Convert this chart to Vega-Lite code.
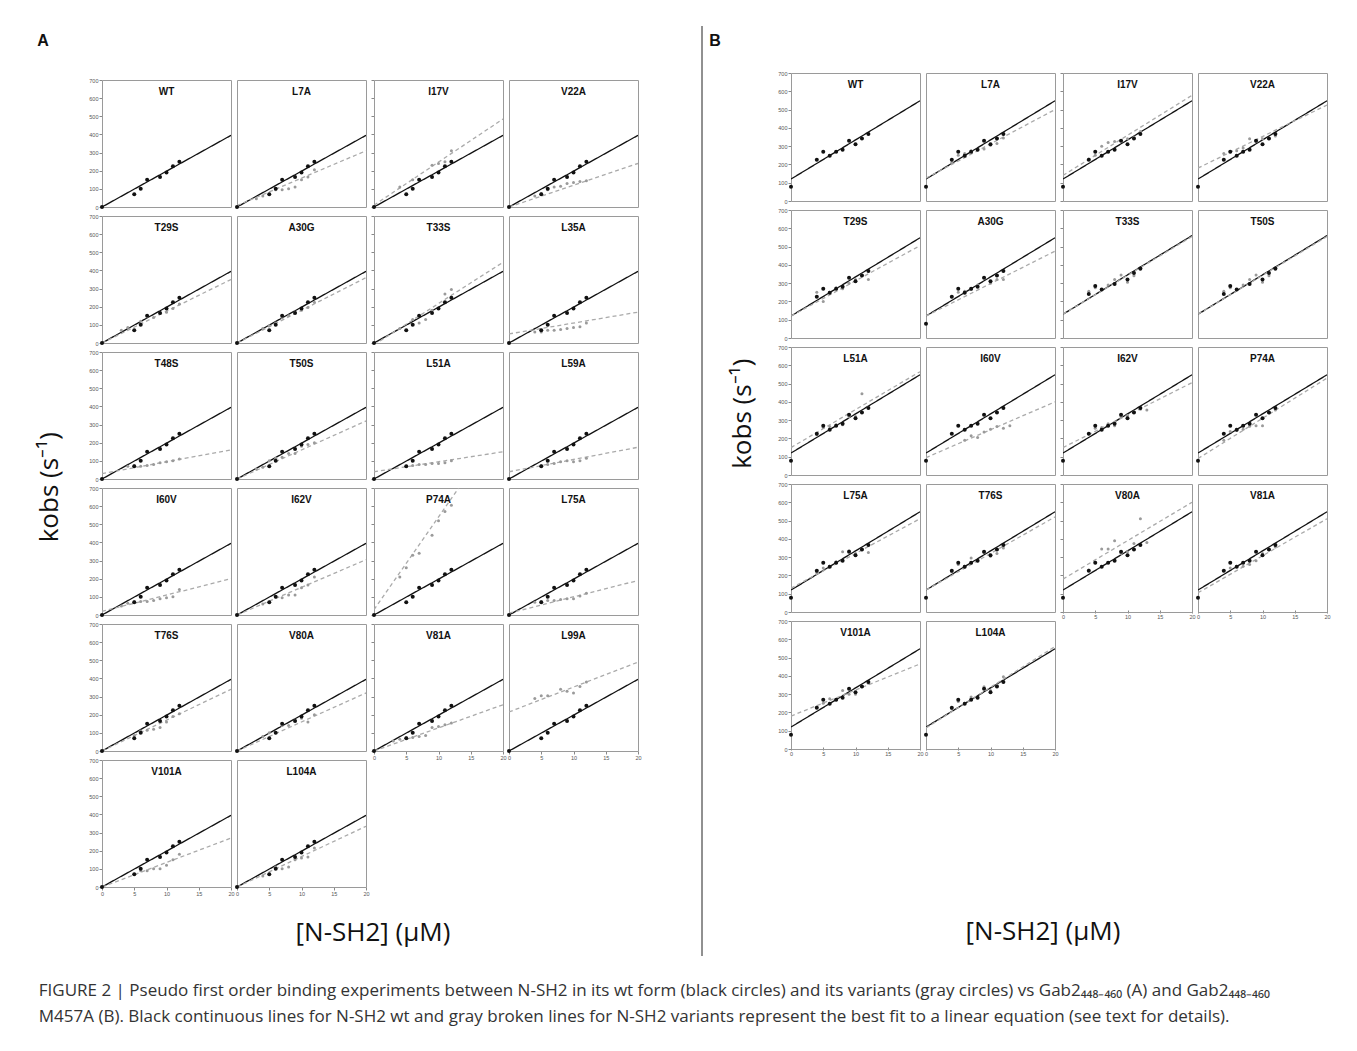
{
"$schema":"https://vega.github.io/schema/vega-lite/v6.json",
"padding":{"left":36,"top":25,"right":5,"bottom":5},
"datasets":{
"A":[
{"p":"WT","s":"wp","x":0,"y":0},{"p":"WT","s":"wp","x":5,"y":70},{"p":"WT","s":"wp","x":6,"y":100},{"p":"WT","s":"wp","x":7,"y":150},{"p":"WT","s":"wp","x":9,"y":165},{"p":"WT","s":"wp","x":10,"y":190},{"p":"WT","s":"wp","x":11,"y":225},{"p":"WT","s":"wp","x":12,"y":250},{"p":"WT","s":"wl","x":0,"y":0},{"p":"WT","s":"wl","x":20,"y":395},
{"p":"L7A","s":"wp","x":0,"y":0},{"p":"L7A","s":"wp","x":5,"y":70},{"p":"L7A","s":"wp","x":6,"y":100},{"p":"L7A","s":"wp","x":7,"y":150},{"p":"L7A","s":"wp","x":9,"y":165},{"p":"L7A","s":"wp","x":10,"y":190},{"p":"L7A","s":"wp","x":11,"y":225},{"p":"L7A","s":"wp","x":12,"y":250},{"p":"L7A","s":"wl","x":0,"y":0},{"p":"L7A","s":"wl","x":20,"y":395},
{"p":"L7A","s":"vp","x":3,"y":45},{"p":"L7A","s":"vp","x":4,"y":60},{"p":"L7A","s":"vp","x":6,"y":95},{"p":"L7A","s":"vp","x":7,"y":95},{"p":"L7A","s":"vp","x":8,"y":100},{"p":"L7A","s":"vp","x":9,"y":110},{"p":"L7A","s":"vp","x":10,"y":150},{"p":"L7A","s":"vp","x":11,"y":165},{"p":"L7A","s":"vp","x":12,"y":205},{"p":"L7A","s":"vl","x":0,"y":8},{"p":"L7A","s":"vl","x":20,"y":310},
{"p":"I17V","s":"wp","x":0,"y":0},{"p":"I17V","s":"wp","x":5,"y":70},{"p":"I17V","s":"wp","x":6,"y":100},{"p":"I17V","s":"wp","x":7,"y":150},{"p":"I17V","s":"wp","x":9,"y":165},{"p":"I17V","s":"wp","x":10,"y":190},{"p":"I17V","s":"wp","x":11,"y":225},{"p":"I17V","s":"wp","x":12,"y":250},{"p":"I17V","s":"wl","x":0,"y":0},{"p":"I17V","s":"wl","x":20,"y":395},
{"p":"I17V","s":"vp","x":4,"y":110},{"p":"I17V","s":"vp","x":6,"y":150},{"p":"I17V","s":"vp","x":7,"y":150},{"p":"I17V","s":"vp","x":9,"y":230},{"p":"I17V","s":"vp","x":10,"y":240},{"p":"I17V","s":"vp","x":11,"y":250},{"p":"I17V","s":"vp","x":12,"y":310},{"p":"I17V","s":"vl","x":0,"y":10},{"p":"I17V","s":"vl","x":20,"y":485},
{"p":"V22A","s":"wp","x":0,"y":0},{"p":"V22A","s":"wp","x":5,"y":70},{"p":"V22A","s":"wp","x":6,"y":100},{"p":"V22A","s":"wp","x":7,"y":150},{"p":"V22A","s":"wp","x":9,"y":165},{"p":"V22A","s":"wp","x":10,"y":190},{"p":"V22A","s":"wp","x":11,"y":225},{"p":"V22A","s":"wp","x":12,"y":250},{"p":"V22A","s":"wl","x":0,"y":0},{"p":"V22A","s":"wl","x":20,"y":395},
{"p":"V22A","s":"vp","x":4,"y":60},{"p":"V22A","s":"vp","x":5,"y":75},{"p":"V22A","s":"vp","x":6,"y":95},{"p":"V22A","s":"vp","x":7,"y":110},{"p":"V22A","s":"vp","x":8,"y":115},{"p":"V22A","s":"vp","x":9,"y":130},{"p":"V22A","s":"vp","x":10,"y":135},{"p":"V22A","s":"vp","x":11,"y":140},{"p":"V22A","s":"vp","x":12,"y":145},{"p":"V22A","s":"vl","x":0,"y":0},{"p":"V22A","s":"vl","x":20,"y":240},
{"p":"T29S","s":"wp","x":0,"y":0},{"p":"T29S","s":"wp","x":5,"y":70},{"p":"T29S","s":"wp","x":6,"y":100},{"p":"T29S","s":"wp","x":7,"y":150},{"p":"T29S","s":"wp","x":9,"y":165},{"p":"T29S","s":"wp","x":10,"y":190},{"p":"T29S","s":"wp","x":11,"y":225},{"p":"T29S","s":"wp","x":12,"y":250},{"p":"T29S","s":"wl","x":0,"y":0},{"p":"T29S","s":"wl","x":20,"y":395},
{"p":"T29S","s":"vp","x":3,"y":70},{"p":"T29S","s":"vp","x":4,"y":85},{"p":"T29S","s":"vp","x":6,"y":120},{"p":"T29S","s":"vp","x":7,"y":145},{"p":"T29S","s":"vp","x":8,"y":140},{"p":"T29S","s":"vp","x":9,"y":165},{"p":"T29S","s":"vp","x":10,"y":170},{"p":"T29S","s":"vp","x":11,"y":190},{"p":"T29S","s":"vp","x":12,"y":215},{"p":"T29S","s":"vl","x":0,"y":0},{"p":"T29S","s":"vl","x":20,"y":350},
{"p":"A30G","s":"wp","x":0,"y":0},{"p":"A30G","s":"wp","x":5,"y":70},{"p":"A30G","s":"wp","x":6,"y":100},{"p":"A30G","s":"wp","x":7,"y":150},{"p":"A30G","s":"wp","x":9,"y":165},{"p":"A30G","s":"wp","x":10,"y":190},{"p":"A30G","s":"wp","x":11,"y":225},{"p":"A30G","s":"wp","x":12,"y":250},{"p":"A30G","s":"wl","x":0,"y":0},{"p":"A30G","s":"wl","x":20,"y":395},
{"p":"A30G","s":"vp","x":4,"y":80},{"p":"A30G","s":"vp","x":5,"y":95},{"p":"A30G","s":"vp","x":6,"y":110},{"p":"A30G","s":"vp","x":7,"y":140},{"p":"A30G","s":"vp","x":8,"y":150},{"p":"A30G","s":"vp","x":9,"y":170},{"p":"A30G","s":"vp","x":10,"y":180},{"p":"A30G","s":"vp","x":11,"y":195},{"p":"A30G","s":"vp","x":12,"y":225},{"p":"A30G","s":"vl","x":0,"y":0},{"p":"A30G","s":"vl","x":20,"y":360},
{"p":"T33S","s":"wp","x":0,"y":0},{"p":"T33S","s":"wp","x":5,"y":70},{"p":"T33S","s":"wp","x":6,"y":100},{"p":"T33S","s":"wp","x":7,"y":150},{"p":"T33S","s":"wp","x":9,"y":165},{"p":"T33S","s":"wp","x":10,"y":190},{"p":"T33S","s":"wp","x":11,"y":225},{"p":"T33S","s":"wp","x":12,"y":250},{"p":"T33S","s":"wl","x":0,"y":0},{"p":"T33S","s":"wl","x":20,"y":395},
{"p":"T33S","s":"vp","x":4,"y":80},{"p":"T33S","s":"vp","x":6,"y":130},{"p":"T33S","s":"vp","x":7,"y":110},{"p":"T33S","s":"vp","x":8,"y":130},{"p":"T33S","s":"vp","x":9,"y":180},{"p":"T33S","s":"vp","x":10,"y":190},{"p":"T33S","s":"vp","x":11,"y":270},{"p":"T33S","s":"vp","x":12,"y":295},{"p":"T33S","s":"vl","x":0,"y":-10},{"p":"T33S","s":"vl","x":20,"y":445},
{"p":"L35A","s":"wp","x":0,"y":0},{"p":"L35A","s":"wp","x":5,"y":70},{"p":"L35A","s":"wp","x":6,"y":100},{"p":"L35A","s":"wp","x":7,"y":150},{"p":"L35A","s":"wp","x":9,"y":165},{"p":"L35A","s":"wp","x":10,"y":190},{"p":"L35A","s":"wp","x":11,"y":225},{"p":"L35A","s":"wp","x":12,"y":250},{"p":"L35A","s":"wl","x":0,"y":0},{"p":"L35A","s":"wl","x":20,"y":395},
{"p":"L35A","s":"vp","x":4,"y":60},{"p":"L35A","s":"vp","x":5,"y":60},{"p":"L35A","s":"vp","x":6,"y":70},{"p":"L35A","s":"vp","x":7,"y":70},{"p":"L35A","s":"vp","x":8,"y":75},{"p":"L35A","s":"vp","x":9,"y":80},{"p":"L35A","s":"vp","x":10,"y":85},{"p":"L35A","s":"vp","x":11,"y":90},{"p":"L35A","s":"vp","x":12,"y":110},{"p":"L35A","s":"vl","x":0,"y":50},{"p":"L35A","s":"vl","x":20,"y":170},
{"p":"T48S","s":"wp","x":0,"y":0},{"p":"T48S","s":"wp","x":5,"y":70},{"p":"T48S","s":"wp","x":6,"y":100},{"p":"T48S","s":"wp","x":7,"y":150},{"p":"T48S","s":"wp","x":9,"y":165},{"p":"T48S","s":"wp","x":10,"y":190},{"p":"T48S","s":"wp","x":11,"y":225},{"p":"T48S","s":"wp","x":12,"y":250},{"p":"T48S","s":"wl","x":0,"y":0},{"p":"T48S","s":"wl","x":20,"y":395},
{"p":"T48S","s":"vp","x":4,"y":70},{"p":"T48S","s":"vp","x":5,"y":75},{"p":"T48S","s":"vp","x":6,"y":70},{"p":"T48S","s":"vp","x":7,"y":75},{"p":"T48S","s":"vp","x":8,"y":80},{"p":"T48S","s":"vp","x":9,"y":90},{"p":"T48S","s":"vp","x":10,"y":95},{"p":"T48S","s":"vp","x":11,"y":100},{"p":"T48S","s":"vp","x":12,"y":110},{"p":"T48S","s":"vl","x":0,"y":30},{"p":"T48S","s":"vl","x":20,"y":160},
{"p":"T50S","s":"wp","x":0,"y":0},{"p":"T50S","s":"wp","x":5,"y":70},{"p":"T50S","s":"wp","x":6,"y":100},{"p":"T50S","s":"wp","x":7,"y":150},{"p":"T50S","s":"wp","x":9,"y":165},{"p":"T50S","s":"wp","x":10,"y":190},{"p":"T50S","s":"wp","x":11,"y":225},{"p":"T50S","s":"wp","x":12,"y":250},{"p":"T50S","s":"wl","x":0,"y":0},{"p":"T50S","s":"wl","x":20,"y":395},
{"p":"T50S","s":"vp","x":3,"y":55},{"p":"T50S","s":"vp","x":4,"y":65},{"p":"T50S","s":"vp","x":5,"y":100},{"p":"T50S","s":"vp","x":6,"y":115},{"p":"T50S","s":"vp","x":7,"y":120},{"p":"T50S","s":"vp","x":8,"y":140},{"p":"T50S","s":"vp","x":9,"y":140},{"p":"T50S","s":"vp","x":10,"y":180},{"p":"T50S","s":"vp","x":11,"y":190},{"p":"T50S","s":"vp","x":12,"y":200},{"p":"T50S","s":"vl","x":0,"y":0},{"p":"T50S","s":"vl","x":20,"y":320},
{"p":"L51A","s":"wp","x":0,"y":0},{"p":"L51A","s":"wp","x":5,"y":70},{"p":"L51A","s":"wp","x":6,"y":100},{"p":"L51A","s":"wp","x":7,"y":150},{"p":"L51A","s":"wp","x":9,"y":165},{"p":"L51A","s":"wp","x":10,"y":190},{"p":"L51A","s":"wp","x":11,"y":225},{"p":"L51A","s":"wp","x":12,"y":250},{"p":"L51A","s":"wl","x":0,"y":0},{"p":"L51A","s":"wl","x":20,"y":395},
{"p":"L51A","s":"vp","x":5,"y":70},{"p":"L51A","s":"vp","x":6,"y":75},{"p":"L51A","s":"vp","x":7,"y":80},{"p":"L51A","s":"vp","x":8,"y":80},{"p":"L51A","s":"vp","x":9,"y":85},{"p":"L51A","s":"vp","x":10,"y":85},{"p":"L51A","s":"vp","x":11,"y":90},{"p":"L51A","s":"vp","x":12,"y":100},{"p":"L51A","s":"vl","x":0,"y":40},{"p":"L51A","s":"vl","x":20,"y":150},
{"p":"L59A","s":"wp","x":0,"y":0},{"p":"L59A","s":"wp","x":5,"y":70},{"p":"L59A","s":"wp","x":6,"y":100},{"p":"L59A","s":"wp","x":7,"y":150},{"p":"L59A","s":"wp","x":9,"y":165},{"p":"L59A","s":"wp","x":10,"y":190},{"p":"L59A","s":"wp","x":11,"y":225},{"p":"L59A","s":"wp","x":12,"y":250},{"p":"L59A","s":"wl","x":0,"y":0},{"p":"L59A","s":"wl","x":20,"y":395},
{"p":"L59A","s":"vp","x":5,"y":75},{"p":"L59A","s":"vp","x":6,"y":80},{"p":"L59A","s":"vp","x":7,"y":85},{"p":"L59A","s":"vp","x":8,"y":95},{"p":"L59A","s":"vp","x":9,"y":100},{"p":"L59A","s":"vp","x":10,"y":95},{"p":"L59A","s":"vp","x":11,"y":100},{"p":"L59A","s":"vp","x":12,"y":115},{"p":"L59A","s":"vl","x":0,"y":40},{"p":"L59A","s":"vl","x":20,"y":175},
{"p":"I60V","s":"wp","x":0,"y":0},{"p":"I60V","s":"wp","x":5,"y":70},{"p":"I60V","s":"wp","x":6,"y":100},{"p":"I60V","s":"wp","x":7,"y":150},{"p":"I60V","s":"wp","x":9,"y":165},{"p":"I60V","s":"wp","x":10,"y":190},{"p":"I60V","s":"wp","x":11,"y":225},{"p":"I60V","s":"wp","x":12,"y":250},{"p":"I60V","s":"wl","x":0,"y":0},{"p":"I60V","s":"wl","x":20,"y":395},
{"p":"I60V","s":"vp","x":3,"y":50},{"p":"I60V","s":"vp","x":4,"y":65},{"p":"I60V","s":"vp","x":5,"y":75},{"p":"I60V","s":"vp","x":6,"y":75},{"p":"I60V","s":"vp","x":7,"y":75},{"p":"I60V","s":"vp","x":8,"y":80},{"p":"I60V","s":"vp","x":9,"y":90},{"p":"I60V","s":"vp","x":10,"y":95},{"p":"I60V","s":"vp","x":11,"y":100},{"p":"I60V","s":"vp","x":12,"y":140},{"p":"I60V","s":"vl","x":0,"y":20},{"p":"I60V","s":"vl","x":20,"y":200},
{"p":"I62V","s":"wp","x":0,"y":0},{"p":"I62V","s":"wp","x":5,"y":70},{"p":"I62V","s":"wp","x":6,"y":100},{"p":"I62V","s":"wp","x":7,"y":150},{"p":"I62V","s":"wp","x":9,"y":165},{"p":"I62V","s":"wp","x":10,"y":190},{"p":"I62V","s":"wp","x":11,"y":225},{"p":"I62V","s":"wp","x":12,"y":250},{"p":"I62V","s":"wl","x":0,"y":0},{"p":"I62V","s":"wl","x":20,"y":395},
{"p":"I62V","s":"vp","x":4,"y":60},{"p":"I62V","s":"vp","x":5,"y":70},{"p":"I62V","s":"vp","x":6,"y":100},{"p":"I62V","s":"vp","x":7,"y":95},{"p":"I62V","s":"vp","x":8,"y":110},{"p":"I62V","s":"vp","x":9,"y":110},{"p":"I62V","s":"vp","x":10,"y":150},{"p":"I62V","s":"vp","x":11,"y":165},{"p":"I62V","s":"vp","x":12,"y":210},{"p":"I62V","s":"vl","x":0,"y":0},{"p":"I62V","s":"vl","x":20,"y":305},
{"p":"P74A","s":"wp","x":0,"y":0},{"p":"P74A","s":"wp","x":5,"y":70},{"p":"P74A","s":"wp","x":6,"y":100},{"p":"P74A","s":"wp","x":7,"y":150},{"p":"P74A","s":"wp","x":9,"y":165},{"p":"P74A","s":"wp","x":10,"y":190},{"p":"P74A","s":"wp","x":11,"y":225},{"p":"P74A","s":"wp","x":12,"y":250},{"p":"P74A","s":"wl","x":0,"y":0},{"p":"P74A","s":"wl","x":20,"y":395},
{"p":"P74A","s":"vp","x":4,"y":210},{"p":"P74A","s":"vp","x":5,"y":260},{"p":"P74A","s":"vp","x":6,"y":330},{"p":"P74A","s":"vp","x":7,"y":340},{"p":"P74A","s":"vp","x":9,"y":440},{"p":"P74A","s":"vp","x":10,"y":520},{"p":"P74A","s":"vp","x":11,"y":570},{"p":"P74A","s":"vp","x":12,"y":605},{"p":"P74A","s":"vl","x":0,"y":30},{"p":"P74A","s":"vl","x":20,"y":1050},
{"p":"L75A","s":"wp","x":0,"y":0},{"p":"L75A","s":"wp","x":5,"y":70},{"p":"L75A","s":"wp","x":6,"y":100},{"p":"L75A","s":"wp","x":7,"y":150},{"p":"L75A","s":"wp","x":9,"y":165},{"p":"L75A","s":"wp","x":10,"y":190},{"p":"L75A","s":"wp","x":11,"y":225},{"p":"L75A","s":"wp","x":12,"y":250},{"p":"L75A","s":"wl","x":0,"y":0},{"p":"L75A","s":"wl","x":20,"y":395},
{"p":"L75A","s":"vp","x":4,"y":70},{"p":"L75A","s":"vp","x":5,"y":75},{"p":"L75A","s":"vp","x":6,"y":80},{"p":"L75A","s":"vp","x":7,"y":80},{"p":"L75A","s":"vp","x":8,"y":85},{"p":"L75A","s":"vp","x":9,"y":90},{"p":"L75A","s":"vp","x":10,"y":90},{"p":"L75A","s":"vp","x":11,"y":105},{"p":"L75A","s":"vp","x":12,"y":120},{"p":"L75A","s":"vl","x":0,"y":10},{"p":"L75A","s":"vl","x":20,"y":190},
{"p":"T76S","s":"wp","x":0,"y":0},{"p":"T76S","s":"wp","x":5,"y":70},{"p":"T76S","s":"wp","x":6,"y":100},{"p":"T76S","s":"wp","x":7,"y":150},{"p":"T76S","s":"wp","x":9,"y":165},{"p":"T76S","s":"wp","x":10,"y":190},{"p":"T76S","s":"wp","x":11,"y":225},{"p":"T76S","s":"wp","x":12,"y":250},{"p":"T76S","s":"wl","x":0,"y":0},{"p":"T76S","s":"wl","x":20,"y":395},
{"p":"T76S","s":"vp","x":5,"y":85},{"p":"T76S","s":"vp","x":6,"y":110},{"p":"T76S","s":"vp","x":7,"y":115},{"p":"T76S","s":"vp","x":8,"y":120},{"p":"T76S","s":"vp","x":9,"y":130},{"p":"T76S","s":"vp","x":10,"y":160},{"p":"T76S","s":"vp","x":11,"y":190},{"p":"T76S","s":"vp","x":12,"y":205},{"p":"T76S","s":"vl","x":0,"y":0},{"p":"T76S","s":"vl","x":20,"y":340},
{"p":"V80A","s":"wp","x":0,"y":0},{"p":"V80A","s":"wp","x":5,"y":70},{"p":"V80A","s":"wp","x":6,"y":100},{"p":"V80A","s":"wp","x":7,"y":150},{"p":"V80A","s":"wp","x":9,"y":165},{"p":"V80A","s":"wp","x":10,"y":190},{"p":"V80A","s":"wp","x":11,"y":225},{"p":"V80A","s":"wp","x":12,"y":250},{"p":"V80A","s":"wl","x":0,"y":0},{"p":"V80A","s":"wl","x":20,"y":395},
{"p":"V80A","s":"vp","x":4,"y":80},{"p":"V80A","s":"vp","x":5,"y":100},{"p":"V80A","s":"vp","x":6,"y":100},{"p":"V80A","s":"vp","x":7,"y":140},{"p":"V80A","s":"vp","x":8,"y":140},{"p":"V80A","s":"vp","x":9,"y":170},{"p":"V80A","s":"vp","x":10,"y":180},{"p":"V80A","s":"vp","x":11,"y":160},{"p":"V80A","s":"vp","x":12,"y":200},{"p":"V80A","s":"vl","x":0,"y":0},{"p":"V80A","s":"vl","x":20,"y":320},
{"p":"V81A","s":"wp","x":0,"y":0},{"p":"V81A","s":"wp","x":5,"y":70},{"p":"V81A","s":"wp","x":6,"y":100},{"p":"V81A","s":"wp","x":7,"y":150},{"p":"V81A","s":"wp","x":9,"y":165},{"p":"V81A","s":"wp","x":10,"y":190},{"p":"V81A","s":"wp","x":11,"y":225},{"p":"V81A","s":"wp","x":12,"y":250},{"p":"V81A","s":"wl","x":0,"y":0},{"p":"V81A","s":"wl","x":20,"y":395},
{"p":"V81A","s":"vp","x":3,"y":55},{"p":"V81A","s":"vp","x":4,"y":65},{"p":"V81A","s":"vp","x":5,"y":75},{"p":"V81A","s":"vp","x":6,"y":75},{"p":"V81A","s":"vp","x":7,"y":80},{"p":"V81A","s":"vp","x":8,"y":85},{"p":"V81A","s":"vp","x":9,"y":130},{"p":"V81A","s":"vp","x":10,"y":135},{"p":"V81A","s":"vp","x":11,"y":145},{"p":"V81A","s":"vp","x":12,"y":155},{"p":"V81A","s":"vl","x":0,"y":0},{"p":"V81A","s":"vl","x":20,"y":255},
{"p":"L99A","s":"wp","x":0,"y":0},{"p":"L99A","s":"wp","x":5,"y":70},{"p":"L99A","s":"wp","x":6,"y":100},{"p":"L99A","s":"wp","x":7,"y":150},{"p":"L99A","s":"wp","x":9,"y":165},{"p":"L99A","s":"wp","x":10,"y":190},{"p":"L99A","s":"wp","x":11,"y":225},{"p":"L99A","s":"wp","x":12,"y":250},{"p":"L99A","s":"wl","x":0,"y":0},{"p":"L99A","s":"wl","x":20,"y":395},
{"p":"L99A","s":"vp","x":4,"y":290},{"p":"L99A","s":"vp","x":5,"y":305},{"p":"L99A","s":"vp","x":6,"y":305},{"p":"L99A","s":"vp","x":8,"y":340},{"p":"L99A","s":"vp","x":9,"y":330},{"p":"L99A","s":"vp","x":10,"y":320},{"p":"L99A","s":"vp","x":11,"y":355},{"p":"L99A","s":"vp","x":12,"y":380},{"p":"L99A","s":"vl","x":0,"y":215},{"p":"L99A","s":"vl","x":20,"y":490},
{"p":"V101A","s":"wp","x":0,"y":0},{"p":"V101A","s":"wp","x":5,"y":70},{"p":"V101A","s":"wp","x":6,"y":100},{"p":"V101A","s":"wp","x":7,"y":150},{"p":"V101A","s":"wp","x":9,"y":165},{"p":"V101A","s":"wp","x":10,"y":190},{"p":"V101A","s":"wp","x":11,"y":225},{"p":"V101A","s":"wp","x":12,"y":250},{"p":"V101A","s":"wl","x":0,"y":0},{"p":"V101A","s":"wl","x":20,"y":395},
{"p":"V101A","s":"vp","x":5,"y":70},{"p":"V101A","s":"vp","x":6,"y":90},{"p":"V101A","s":"vp","x":7,"y":90},{"p":"V101A","s":"vp","x":8,"y":100},{"p":"V101A","s":"vp","x":9,"y":100},{"p":"V101A","s":"vp","x":10,"y":120},{"p":"V101A","s":"vp","x":11,"y":150},{"p":"V101A","s":"vp","x":12,"y":180},{"p":"V101A","s":"vl","x":0,"y":0},{"p":"V101A","s":"vl","x":20,"y":270},
{"p":"L104A","s":"wp","x":0,"y":0},{"p":"L104A","s":"wp","x":5,"y":70},{"p":"L104A","s":"wp","x":6,"y":100},{"p":"L104A","s":"wp","x":7,"y":150},{"p":"L104A","s":"wp","x":9,"y":165},{"p":"L104A","s":"wp","x":10,"y":190},{"p":"L104A","s":"wp","x":11,"y":225},{"p":"L104A","s":"wp","x":12,"y":250},{"p":"L104A","s":"wl","x":0,"y":0},{"p":"L104A","s":"wl","x":20,"y":395},
{"p":"L104A","s":"vp","x":4,"y":60},{"p":"L104A","s":"vp","x":6,"y":110},{"p":"L104A","s":"vp","x":7,"y":100},{"p":"L104A","s":"vp","x":8,"y":110},{"p":"L104A","s":"vp","x":9,"y":150},{"p":"L104A","s":"vp","x":10,"y":160},{"p":"L104A","s":"vp","x":11,"y":165},{"p":"L104A","s":"vp","x":12,"y":215},{"p":"L104A","s":"vl","x":0,"y":0},{"p":"L104A","s":"vl","x":20,"y":335}
],
"B":[
{"p":"WT","s":"wp","x":0,"y":78},{"p":"WT","s":"wp","x":4,"y":225},{"p":"WT","s":"wp","x":5,"y":270},{"p":"WT","s":"wp","x":6,"y":248},{"p":"WT","s":"wp","x":7,"y":270},{"p":"WT","s":"wp","x":8,"y":280},{"p":"WT","s":"wp","x":9,"y":330},{"p":"WT","s":"wp","x":10,"y":310},{"p":"WT","s":"wp","x":11,"y":342},{"p":"WT","s":"wp","x":12,"y":367},{"p":"WT","s":"wl","x":0,"y":120},{"p":"WT","s":"wl","x":20,"y":548},
{"p":"L7A","s":"wp","x":0,"y":78},{"p":"L7A","s":"wp","x":4,"y":225},{"p":"L7A","s":"wp","x":5,"y":270},{"p":"L7A","s":"wp","x":6,"y":248},{"p":"L7A","s":"wp","x":7,"y":270},{"p":"L7A","s":"wp","x":8,"y":280},{"p":"L7A","s":"wp","x":9,"y":330},{"p":"L7A","s":"wp","x":10,"y":310},{"p":"L7A","s":"wp","x":11,"y":342},{"p":"L7A","s":"wp","x":12,"y":367},{"p":"L7A","s":"wl","x":0,"y":120},{"p":"L7A","s":"wl","x":20,"y":548},
{"p":"L7A","s":"vp","x":4,"y":210},{"p":"L7A","s":"vp","x":5,"y":250},{"p":"L7A","s":"vp","x":6,"y":260},{"p":"L7A","s":"vp","x":7,"y":275},{"p":"L7A","s":"vp","x":8,"y":280},{"p":"L7A","s":"vp","x":9,"y":285},{"p":"L7A","s":"vp","x":10,"y":305},{"p":"L7A","s":"vp","x":11,"y":315},{"p":"L7A","s":"vp","x":12,"y":345},{"p":"L7A","s":"vl","x":0,"y":125},{"p":"L7A","s":"vl","x":20,"y":500},
{"p":"I17V","s":"wp","x":0,"y":78},{"p":"I17V","s":"wp","x":4,"y":225},{"p":"I17V","s":"wp","x":5,"y":270},{"p":"I17V","s":"wp","x":6,"y":248},{"p":"I17V","s":"wp","x":7,"y":270},{"p":"I17V","s":"wp","x":8,"y":280},{"p":"I17V","s":"wp","x":9,"y":330},{"p":"I17V","s":"wp","x":10,"y":310},{"p":"I17V","s":"wp","x":11,"y":342},{"p":"I17V","s":"wp","x":12,"y":367},{"p":"I17V","s":"wl","x":0,"y":120},{"p":"I17V","s":"wl","x":20,"y":548},
{"p":"I17V","s":"vp","x":4,"y":230},{"p":"I17V","s":"vp","x":5,"y":250},{"p":"I17V","s":"vp","x":6,"y":300},{"p":"I17V","s":"vp","x":7,"y":320},{"p":"I17V","s":"vp","x":8,"y":325},{"p":"I17V","s":"vp","x":9,"y":330},{"p":"I17V","s":"vp","x":10,"y":340},{"p":"I17V","s":"vp","x":11,"y":350},{"p":"I17V","s":"vp","x":12,"y":380},{"p":"I17V","s":"vl","x":0,"y":140},{"p":"I17V","s":"vl","x":20,"y":578},
{"p":"V22A","s":"wp","x":0,"y":78},{"p":"V22A","s":"wp","x":4,"y":225},{"p":"V22A","s":"wp","x":5,"y":270},{"p":"V22A","s":"wp","x":6,"y":248},{"p":"V22A","s":"wp","x":7,"y":270},{"p":"V22A","s":"wp","x":8,"y":280},{"p":"V22A","s":"wp","x":9,"y":330},{"p":"V22A","s":"wp","x":10,"y":310},{"p":"V22A","s":"wp","x":11,"y":342},{"p":"V22A","s":"wp","x":12,"y":367},{"p":"V22A","s":"wl","x":0,"y":120},{"p":"V22A","s":"wl","x":20,"y":548},
{"p":"V22A","s":"vp","x":4,"y":260},{"p":"V22A","s":"vp","x":5,"y":270},{"p":"V22A","s":"vp","x":6,"y":275},{"p":"V22A","s":"vp","x":7,"y":290},{"p":"V22A","s":"vp","x":8,"y":340},{"p":"V22A","s":"vp","x":9,"y":325},{"p":"V22A","s":"vp","x":10,"y":340},{"p":"V22A","s":"vp","x":11,"y":340},{"p":"V22A","s":"vp","x":12,"y":355},{"p":"V22A","s":"vl","x":0,"y":180},{"p":"V22A","s":"vl","x":20,"y":525},
{"p":"T29S","s":"wp","x":4,"y":225},{"p":"T29S","s":"wp","x":5,"y":270},{"p":"T29S","s":"wp","x":6,"y":248},{"p":"T29S","s":"wp","x":7,"y":270},{"p":"T29S","s":"wp","x":8,"y":280},{"p":"T29S","s":"wp","x":9,"y":330},{"p":"T29S","s":"wp","x":10,"y":310},{"p":"T29S","s":"wp","x":11,"y":342},{"p":"T29S","s":"wp","x":12,"y":367},{"p":"T29S","s":"wl","x":0,"y":120},{"p":"T29S","s":"wl","x":20,"y":548},
{"p":"T29S","s":"vp","x":4,"y":250},{"p":"T29S","s":"vp","x":5,"y":200},{"p":"T29S","s":"vp","x":6,"y":250},{"p":"T29S","s":"vp","x":7,"y":275},{"p":"T29S","s":"vp","x":8,"y":270},{"p":"T29S","s":"vp","x":9,"y":300},{"p":"T29S","s":"vp","x":10,"y":320},{"p":"T29S","s":"vp","x":11,"y":345},{"p":"T29S","s":"vp","x":12,"y":320},{"p":"T29S","s":"vl","x":0,"y":120},{"p":"T29S","s":"vl","x":20,"y":505},
{"p":"A30G","s":"wp","x":0,"y":78},{"p":"A30G","s":"wp","x":4,"y":225},{"p":"A30G","s":"wp","x":5,"y":270},{"p":"A30G","s":"wp","x":6,"y":248},{"p":"A30G","s":"wp","x":7,"y":270},{"p":"A30G","s":"wp","x":8,"y":280},{"p":"A30G","s":"wp","x":9,"y":330},{"p":"A30G","s":"wp","x":10,"y":310},{"p":"A30G","s":"wp","x":11,"y":342},{"p":"A30G","s":"wp","x":12,"y":367},{"p":"A30G","s":"wl","x":0,"y":120},{"p":"A30G","s":"wl","x":20,"y":548},
{"p":"A30G","s":"vp","x":4,"y":225},{"p":"A30G","s":"vp","x":5,"y":250},{"p":"A30G","s":"vp","x":6,"y":255},{"p":"A30G","s":"vp","x":7,"y":265},{"p":"A30G","s":"vp","x":8,"y":290},{"p":"A30G","s":"vp","x":9,"y":330},{"p":"A30G","s":"vp","x":10,"y":300},{"p":"A30G","s":"vp","x":11,"y":320},{"p":"A30G","s":"vp","x":12,"y":320},{"p":"A30G","s":"vl","x":0,"y":120},{"p":"A30G","s":"vl","x":20,"y":475},
{"p":"T33S","s":"wp","x":4,"y":240},{"p":"T33S","s":"wp","x":5,"y":285},{"p":"T33S","s":"wp","x":6,"y":265},{"p":"T33S","s":"wp","x":8,"y":295},{"p":"T33S","s":"wp","x":10,"y":320},{"p":"T33S","s":"wp","x":11,"y":355},{"p":"T33S","s":"wp","x":12,"y":380},{"p":"T33S","s":"wl","x":0,"y":130},{"p":"T33S","s":"wl","x":20,"y":560},
{"p":"T33S","s":"vp","x":4,"y":255},{"p":"T33S","s":"vp","x":5,"y":275},{"p":"T33S","s":"vp","x":6,"y":265},{"p":"T33S","s":"vp","x":7,"y":290},{"p":"T33S","s":"vp","x":8,"y":320},{"p":"T33S","s":"vp","x":9,"y":345},{"p":"T33S","s":"vp","x":10,"y":305},{"p":"T33S","s":"vp","x":11,"y":340},{"p":"T33S","s":"vp","x":12,"y":375},{"p":"T33S","s":"vl","x":0,"y":130},{"p":"T33S","s":"vl","x":20,"y":555},
{"p":"T50S","s":"wp","x":4,"y":240},{"p":"T50S","s":"wp","x":5,"y":285},{"p":"T50S","s":"wp","x":6,"y":265},{"p":"T50S","s":"wp","x":8,"y":295},{"p":"T50S","s":"wp","x":10,"y":320},{"p":"T50S","s":"wp","x":11,"y":355},{"p":"T50S","s":"wp","x":12,"y":380},{"p":"T50S","s":"wl","x":0,"y":130},{"p":"T50S","s":"wl","x":20,"y":560},
{"p":"T50S","s":"vp","x":4,"y":255},{"p":"T50S","s":"vp","x":5,"y":275},{"p":"T50S","s":"vp","x":6,"y":265},{"p":"T50S","s":"vp","x":7,"y":290},{"p":"T50S","s":"vp","x":8,"y":320},{"p":"T50S","s":"vp","x":9,"y":345},{"p":"T50S","s":"vp","x":10,"y":305},{"p":"T50S","s":"vp","x":11,"y":340},{"p":"T50S","s":"vp","x":12,"y":375},{"p":"T50S","s":"vl","x":0,"y":130},{"p":"T50S","s":"vl","x":20,"y":555},
{"p":"L51A","s":"wp","x":0,"y":78},{"p":"L51A","s":"wp","x":4,"y":225},{"p":"L51A","s":"wp","x":5,"y":270},{"p":"L51A","s":"wp","x":6,"y":248},{"p":"L51A","s":"wp","x":7,"y":270},{"p":"L51A","s":"wp","x":8,"y":280},{"p":"L51A","s":"wp","x":9,"y":330},{"p":"L51A","s":"wp","x":10,"y":310},{"p":"L51A","s":"wp","x":11,"y":342},{"p":"L51A","s":"wp","x":12,"y":367},{"p":"L51A","s":"wl","x":0,"y":120},{"p":"L51A","s":"wl","x":20,"y":548},
{"p":"L51A","s":"vp","x":4,"y":220},{"p":"L51A","s":"vp","x":5,"y":260},{"p":"L51A","s":"vp","x":6,"y":265},{"p":"L51A","s":"vp","x":7,"y":275},{"p":"L51A","s":"vp","x":8,"y":275},{"p":"L51A","s":"vp","x":9,"y":320},{"p":"L51A","s":"vp","x":10,"y":320},{"p":"L51A","s":"vp","x":11,"y":445},{"p":"L51A","s":"vp","x":12,"y":370},{"p":"L51A","s":"vl","x":0,"y":150},{"p":"L51A","s":"vl","x":20,"y":565},
{"p":"I60V","s":"wp","x":0,"y":78},{"p":"I60V","s":"wp","x":4,"y":225},{"p":"I60V","s":"wp","x":5,"y":270},{"p":"I60V","s":"wp","x":6,"y":248},{"p":"I60V","s":"wp","x":7,"y":270},{"p":"I60V","s":"wp","x":8,"y":280},{"p":"I60V","s":"wp","x":9,"y":330},{"p":"I60V","s":"wp","x":10,"y":310},{"p":"I60V","s":"wp","x":11,"y":342},{"p":"I60V","s":"wp","x":12,"y":367},{"p":"I60V","s":"wl","x":0,"y":120},{"p":"I60V","s":"wl","x":20,"y":548},
{"p":"I60V","s":"vp","x":6,"y":190},{"p":"I60V","s":"vp","x":7,"y":215},{"p":"I60V","s":"vp","x":8,"y":205},{"p":"I60V","s":"vp","x":9,"y":235},{"p":"I60V","s":"vp","x":10,"y":250},{"p":"I60V","s":"vp","x":11,"y":265},{"p":"I60V","s":"vp","x":12,"y":255},{"p":"I60V","s":"vp","x":13,"y":270},{"p":"I60V","s":"vl","x":0,"y":95},{"p":"I60V","s":"vl","x":20,"y":400},
{"p":"I62V","s":"wp","x":0,"y":78},{"p":"I62V","s":"wp","x":4,"y":225},{"p":"I62V","s":"wp","x":5,"y":270},{"p":"I62V","s":"wp","x":6,"y":248},{"p":"I62V","s":"wp","x":7,"y":270},{"p":"I62V","s":"wp","x":8,"y":280},{"p":"I62V","s":"wp","x":9,"y":330},{"p":"I62V","s":"wp","x":10,"y":310},{"p":"I62V","s":"wp","x":11,"y":342},{"p":"I62V","s":"wp","x":12,"y":367},{"p":"I62V","s":"wl","x":0,"y":120},{"p":"I62V","s":"wl","x":20,"y":548},
{"p":"I62V","s":"vp","x":4,"y":225},{"p":"I62V","s":"vp","x":5,"y":255},{"p":"I62V","s":"vp","x":6,"y":260},{"p":"I62V","s":"vp","x":7,"y":280},{"p":"I62V","s":"vp","x":8,"y":270},{"p":"I62V","s":"vp","x":9,"y":320},{"p":"I62V","s":"vp","x":10,"y":325},{"p":"I62V","s":"vp","x":11,"y":345},{"p":"I62V","s":"vp","x":12,"y":360},{"p":"I62V","s":"vp","x":13,"y":355},{"p":"I62V","s":"vl","x":0,"y":150},{"p":"I62V","s":"vl","x":20,"y":505},
{"p":"P74A","s":"wp","x":0,"y":78},{"p":"P74A","s":"wp","x":4,"y":225},{"p":"P74A","s":"wp","x":5,"y":270},{"p":"P74A","s":"wp","x":6,"y":248},{"p":"P74A","s":"wp","x":7,"y":270},{"p":"P74A","s":"wp","x":8,"y":280},{"p":"P74A","s":"wp","x":9,"y":330},{"p":"P74A","s":"wp","x":10,"y":310},{"p":"P74A","s":"wp","x":11,"y":342},{"p":"P74A","s":"wp","x":12,"y":367},{"p":"P74A","s":"wl","x":0,"y":120},{"p":"P74A","s":"wl","x":20,"y":548},
{"p":"P74A","s":"vp","x":4,"y":190},{"p":"P74A","s":"vp","x":5,"y":238},{"p":"P74A","s":"vp","x":6,"y":243},{"p":"P74A","s":"vp","x":7,"y":250},{"p":"P74A","s":"vp","x":8,"y":266},{"p":"P74A","s":"vp","x":9,"y":270},{"p":"P74A","s":"vp","x":10,"y":270},{"p":"P74A","s":"vp","x":11,"y":340},{"p":"P74A","s":"vp","x":12,"y":355},{"p":"P74A","s":"vl","x":0,"y":90},{"p":"P74A","s":"vl","x":20,"y":530},
{"p":"L75A","s":"wp","x":0,"y":78},{"p":"L75A","s":"wp","x":4,"y":225},{"p":"L75A","s":"wp","x":5,"y":270},{"p":"L75A","s":"wp","x":6,"y":248},{"p":"L75A","s":"wp","x":7,"y":270},{"p":"L75A","s":"wp","x":8,"y":280},{"p":"L75A","s":"wp","x":9,"y":330},{"p":"L75A","s":"wp","x":10,"y":310},{"p":"L75A","s":"wp","x":11,"y":342},{"p":"L75A","s":"wp","x":12,"y":367},{"p":"L75A","s":"wl","x":0,"y":120},{"p":"L75A","s":"wl","x":20,"y":548},
{"p":"L75A","s":"vp","x":4,"y":215},{"p":"L75A","s":"vp","x":5,"y":240},{"p":"L75A","s":"vp","x":6,"y":250},{"p":"L75A","s":"vp","x":7,"y":275},{"p":"L75A","s":"vp","x":8,"y":330},{"p":"L75A","s":"vp","x":9,"y":335},{"p":"L75A","s":"vp","x":10,"y":320},{"p":"L75A","s":"vp","x":11,"y":340},{"p":"L75A","s":"vp","x":12,"y":325},{"p":"L75A","s":"vl","x":0,"y":130},{"p":"L75A","s":"vl","x":20,"y":510},
{"p":"T76S","s":"wp","x":0,"y":78},{"p":"T76S","s":"wp","x":4,"y":225},{"p":"T76S","s":"wp","x":5,"y":270},{"p":"T76S","s":"wp","x":6,"y":248},{"p":"T76S","s":"wp","x":7,"y":270},{"p":"T76S","s":"wp","x":8,"y":280},{"p":"T76S","s":"wp","x":9,"y":330},{"p":"T76S","s":"wp","x":10,"y":310},{"p":"T76S","s":"wp","x":11,"y":342},{"p":"T76S","s":"wp","x":12,"y":367},{"p":"T76S","s":"wl","x":0,"y":120},{"p":"T76S","s":"wl","x":20,"y":548},
{"p":"T76S","s":"vp","x":4,"y":220},{"p":"T76S","s":"vp","x":5,"y":260},{"p":"T76S","s":"vp","x":6,"y":250},{"p":"T76S","s":"vp","x":7,"y":295},{"p":"T76S","s":"vp","x":8,"y":280},{"p":"T76S","s":"vp","x":9,"y":325},{"p":"T76S","s":"vp","x":10,"y":305},{"p":"T76S","s":"vp","x":11,"y":320},{"p":"T76S","s":"vp","x":12,"y":350},{"p":"T76S","s":"vl","x":0,"y":120},{"p":"T76S","s":"vl","x":20,"y":520},
{"p":"V80A","s":"wp","x":0,"y":78},{"p":"V80A","s":"wp","x":4,"y":225},{"p":"V80A","s":"wp","x":5,"y":270},{"p":"V80A","s":"wp","x":6,"y":248},{"p":"V80A","s":"wp","x":7,"y":270},{"p":"V80A","s":"wp","x":8,"y":280},{"p":"V80A","s":"wp","x":9,"y":330},{"p":"V80A","s":"wp","x":10,"y":310},{"p":"V80A","s":"wp","x":11,"y":342},{"p":"V80A","s":"wp","x":12,"y":367},{"p":"V80A","s":"wl","x":0,"y":120},{"p":"V80A","s":"wl","x":20,"y":548},
{"p":"V80A","s":"vp","x":4,"y":230},{"p":"V80A","s":"vp","x":5,"y":270},{"p":"V80A","s":"vp","x":6,"y":345},{"p":"V80A","s":"vp","x":7,"y":345},{"p":"V80A","s":"vp","x":8,"y":390},{"p":"V80A","s":"vp","x":9,"y":320},{"p":"V80A","s":"vp","x":10,"y":330},{"p":"V80A","s":"vp","x":11,"y":375},{"p":"V80A","s":"vp","x":12,"y":510},{"p":"V80A","s":"vp","x":13,"y":380},{"p":"V80A","s":"vl","x":0,"y":180},{"p":"V80A","s":"vl","x":20,"y":600},
{"p":"V81A","s":"wp","x":0,"y":78},{"p":"V81A","s":"wp","x":4,"y":225},{"p":"V81A","s":"wp","x":5,"y":270},{"p":"V81A","s":"wp","x":6,"y":248},{"p":"V81A","s":"wp","x":7,"y":270},{"p":"V81A","s":"wp","x":8,"y":280},{"p":"V81A","s":"wp","x":9,"y":330},{"p":"V81A","s":"wp","x":10,"y":310},{"p":"V81A","s":"wp","x":11,"y":342},{"p":"V81A","s":"wp","x":12,"y":367},{"p":"V81A","s":"wl","x":0,"y":120},{"p":"V81A","s":"wl","x":20,"y":548},
{"p":"V81A","s":"vp","x":4,"y":225},{"p":"V81A","s":"vp","x":5,"y":240},{"p":"V81A","s":"vp","x":6,"y":250},{"p":"V81A","s":"vp","x":7,"y":250},{"p":"V81A","s":"vp","x":8,"y":260},{"p":"V81A","s":"vp","x":9,"y":280},{"p":"V81A","s":"vp","x":10,"y":320},{"p":"V81A","s":"vp","x":11,"y":340},{"p":"V81A","s":"vp","x":12,"y":355},{"p":"V81A","s":"vl","x":0,"y":105},{"p":"V81A","s":"vl","x":20,"y":510},
{"p":"V101A","s":"wp","x":0,"y":78},{"p":"V101A","s":"wp","x":4,"y":225},{"p":"V101A","s":"wp","x":5,"y":270},{"p":"V101A","s":"wp","x":6,"y":248},{"p":"V101A","s":"wp","x":7,"y":270},{"p":"V101A","s":"wp","x":8,"y":280},{"p":"V101A","s":"wp","x":9,"y":330},{"p":"V101A","s":"wp","x":10,"y":310},{"p":"V101A","s":"wp","x":11,"y":342},{"p":"V101A","s":"wp","x":12,"y":367},{"p":"V101A","s":"wl","x":0,"y":120},{"p":"V101A","s":"wl","x":20,"y":548},
{"p":"V101A","s":"vp","x":4,"y":230},{"p":"V101A","s":"vp","x":5,"y":250},{"p":"V101A","s":"vp","x":6,"y":275},{"p":"V101A","s":"vp","x":7,"y":270},{"p":"V101A","s":"vp","x":8,"y":320},{"p":"V101A","s":"vp","x":9,"y":300},{"p":"V101A","s":"vp","x":10,"y":300},{"p":"V101A","s":"vp","x":11,"y":340},{"p":"V101A","s":"vp","x":12,"y":360},{"p":"V101A","s":"vl","x":0,"y":180},{"p":"V101A","s":"vl","x":20,"y":465},
{"p":"L104A","s":"wp","x":0,"y":78},{"p":"L104A","s":"wp","x":4,"y":225},{"p":"L104A","s":"wp","x":5,"y":270},{"p":"L104A","s":"wp","x":6,"y":248},{"p":"L104A","s":"wp","x":7,"y":270},{"p":"L104A","s":"wp","x":8,"y":280},{"p":"L104A","s":"wp","x":9,"y":330},{"p":"L104A","s":"wp","x":10,"y":310},{"p":"L104A","s":"wp","x":11,"y":342},{"p":"L104A","s":"wp","x":12,"y":367},{"p":"L104A","s":"wl","x":0,"y":120},{"p":"L104A","s":"wl","x":20,"y":548},
{"p":"L104A","s":"vp","x":4,"y":220},{"p":"L104A","s":"vp","x":5,"y":260},{"p":"L104A","s":"vp","x":6,"y":250},{"p":"L104A","s":"vp","x":7,"y":285},{"p":"L104A","s":"vp","x":8,"y":280},{"p":"L104A","s":"vp","x":9,"y":340},{"p":"L104A","s":"vp","x":10,"y":320},{"p":"L104A","s":"vp","x":11,"y":350},{"p":"L104A","s":"vp","x":12,"y":395},{"p":"L104A","s":"vl","x":0,"y":115},{"p":"L104A","s":"vl","x":20,"y":560}
]
},
"title":{"text":["FIGURE 2 | Pseudo first order binding experiments between N-SH2 in its wt form (black circles) and its variants (gray circles) vs Gab2₄₄₈₋₄₆₀ (A) and Gab2₄₄₈₋₄₆₀","M457A (B). Black continuous lines for N-SH2 wt and gray broken lines for N-SH2 variants represent the best fit to a linear equation (see text for details)."],"orient":"bottom","anchor":"start","fontSize":17,"fontWeight":"normal","font":"Open Sans","color":"#333333","lineHeight":26,"offset":26,"dx":2},
"spacing":6,
"hconcat":[
{"spacing":22,
 "vconcat":[
  {"width":20,"height":30,"view":{"stroke":null},"data":{"values":[{"t":"A"}]},
   "mark":{"type":"text","fontSize":16,"fontWeight":"bold","font":"Liberation Sans","color":"#111111","align":"center","baseline":"middle","dx":-69},
   "encoding":{"text":{"field":"t"}}},
  {"title":{"text":"[N-SH2] (μM)","orient":"bottom","anchor":"middle","fontSize":26,"fontWeight":"normal","font":"Open Sans","color":"#111111","offset":23,"dx":34},
   "spacing":0,
   "hconcat":[
    {"data":{"name":"A"},
     "transform":[{"filter":{"field":"p","oneOf":["WT","L7A","T29S","A30G","T48S","T50S","I60V","I62V","T76S","V80A","V101A","L104A"]}}],
     "title":{"text":"kobs (s⁻¹)","orient":"left","anchor":"middle","fontSize":26,"fontWeight":"normal","font":"Open Sans","color":"#111111","offset":26},
     "columns":2,
     "spacing":{"row":5,"column":2},
     "facet":{"field":"p","type":"nominal","sort":["WT","L7A","T29S","A30G","T48S","T50S","I60V","I62V","T76S","V80A","V101A","L104A"],"header":{"title":null,"labelFontSize":10,"labelFontWeight":"bold","labelFont":"Liberation Sans","labelColor":"#111111","labelPadding":-17}},
     "spec":{"width":129,"height":127,
      "encoding":{"x":{"field":"x","type":"quantitative","title":null,"scale":{"domain":[0,20]},"axis":{"values":[0,5,10,15,20],"tickCount":5,"labelOverlap":false}},
        "y":{"field":"y","type":"quantitative","title":null,"scale":{"domain":[0,700]},"axis":{"values":[0,100,200,300,400,500,600,700],"tickCount":8,"labelOverlap":false}}},
      "layer":[
      {"transform":[{"filter":"datum.s=='vl'||datum.s=='wl'"}],"mark":{"type":"line","clip":true,"strokeWidth":1.3},
       "encoding":{"color":{"field":"s","type":"nominal","scale":{"domain":["wl","vl"],"range":["#111111","#aaaaaa"]},"legend":null},
        "strokeDash":{"field":"s","type":"nominal","scale":{"domain":["wl","vl"],"range":[[1,0],[4,3]]},"legend":null}}},
      {"transform":[{"filter":"datum.s=='vp'"}],"mark":{"type":"circle","size":9,"color":"#9a9a9a","opacity":1},"encoding":{}},
      {"transform":[{"filter":"datum.s=='wp'"}],"mark":{"type":"circle","size":16,"color":"#111111","opacity":1},"encoding":{}}
     ]}},
    {"data":{"name":"A"},
     "transform":[{"filter":{"field":"p","oneOf":["I17V","V22A","T33S","L35A","L51A","L59A","P74A","L75A","V81A","L99A"]}}],
     "columns":2,
     "spacing":{"row":5,"column":2},
     "facet":{"field":"p","type":"nominal","sort":["I17V","V22A","T33S","L35A","L51A","L59A","P74A","L75A","V81A","L99A"],"header":{"title":null,"labelFontSize":10,"labelFontWeight":"bold","labelFont":"Liberation Sans","labelColor":"#111111","labelPadding":-17}},
     "spec":{"width":129,"height":127,
      "encoding":{"x":{"field":"x","type":"quantitative","title":null,"scale":{"domain":[0,20]},"axis":{"values":[0,5,10,15,20],"tickCount":5,"labelOverlap":false}},
        "y":{"field":"y","type":"quantitative","title":null,"scale":{"domain":[0,700]},"axis":{"values":[0,100,200,300,400,500,600,700],"tickCount":8,"labels":false}}},
      "layer":[
      {"transform":[{"filter":"datum.s=='vl'||datum.s=='wl'"}],"mark":{"type":"line","clip":true,"strokeWidth":1.3},
       "encoding":{"color":{"field":"s","type":"nominal","scale":{"domain":["wl","vl"],"range":["#111111","#aaaaaa"]},"legend":null},
        "strokeDash":{"field":"s","type":"nominal","scale":{"domain":["wl","vl"],"range":[[1,0],[4,3]]},"legend":null}}},
      {"transform":[{"filter":"datum.s=='vp'"}],"mark":{"type":"circle","size":9,"color":"#9a9a9a","opacity":1},"encoding":{}},
      {"transform":[{"filter":"datum.s=='wp'"}],"mark":{"type":"circle","size":16,"color":"#111111","opacity":1},"encoding":{}}
     ]}}
   ]}
 ]},
{"width":54,"height":930,"view":{"stroke":null},"data":{"values":[{"a":1}]},
 "mark":{"type":"rule","color":"#222222","strokeWidth":1},
 "encoding":{"x":{"datum":1,"type":"quantitative","scale":{"domain":[0,1]},"axis":null}}},
{"spacing":15,
 "vconcat":[
  {"width":20,"height":30,"view":{"stroke":null},"data":{"values":[{"t":"B"}]},
   "mark":{"type":"text","fontSize":16,"fontWeight":"bold","font":"Liberation Sans","color":"#111111","align":"center","baseline":"middle","dx":-86},
   "encoding":{"text":{"field":"t"}}},
  {"title":{"text":"[N-SH2] (μM)","orient":"bottom","anchor":"middle","fontSize":26,"fontWeight":"normal","font":"Open Sans","color":"#111111","offset":162,"dx":13},
   "spacing":0,
   "hconcat":[
    {"data":{"name":"B"},
     "transform":[{"filter":{"field":"p","oneOf":["WT","L7A","T29S","A30G","L51A","I60V","L75A","T76S","V101A","L104A"]}}],
     "title":{"text":"kobs (s⁻¹)","orient":"left","anchor":"middle","fontSize":26,"fontWeight":"normal","font":"Open Sans","color":"#111111","offset":22},
     "columns":2,
     "spacing":{"row":7,"column":2},
     "facet":{"field":"p","type":"nominal","sort":["WT","L7A","T29S","A30G","L51A","I60V","L75A","T76S","V101A","L104A"],"header":{"title":null,"labelFontSize":10,"labelFontWeight":"bold","labelFont":"Liberation Sans","labelColor":"#111111","labelPadding":-17}},
     "spec":{"width":129,"height":128,
      "encoding":{"x":{"field":"x","type":"quantitative","title":null,"scale":{"domain":[0,20]},"axis":{"values":[0,5,10,15,20],"tickCount":5,"labelOverlap":false}},
        "y":{"field":"y","type":"quantitative","title":null,"scale":{"domain":[0,700]},"axis":{"values":[0,100,200,300,400,500,600,700],"tickCount":8,"labelOverlap":false}}},
      "layer":[
      {"transform":[{"filter":"datum.s=='vl'||datum.s=='wl'"}],"mark":{"type":"line","clip":true,"strokeWidth":1.3},
       "encoding":{"color":{"field":"s","type":"nominal","scale":{"domain":["wl","vl"],"range":["#111111","#aaaaaa"]},"legend":null},
        "strokeDash":{"field":"s","type":"nominal","scale":{"domain":["wl","vl"],"range":[[1,0],[4,3]]},"legend":null}}},
      {"transform":[{"filter":"datum.s=='vp'"}],"mark":{"type":"circle","size":9,"color":"#9a9a9a","opacity":1},"encoding":{}},
      {"transform":[{"filter":"datum.s=='wp'"}],"mark":{"type":"circle","size":16,"color":"#111111","opacity":1},"encoding":{}}
     ]}},
    {"data":{"name":"B"},
     "transform":[{"filter":{"field":"p","oneOf":["I17V","V22A","T33S","T50S","I62V","P74A","V80A","V81A"]}}],
     "columns":2,
     "spacing":{"row":7,"column":2},
     "facet":{"field":"p","type":"nominal","sort":["I17V","V22A","T33S","T50S","I62V","P74A","V80A","V81A"],"header":{"title":null,"labelFontSize":10,"labelFontWeight":"bold","labelFont":"Liberation Sans","labelColor":"#111111","labelPadding":-17}},
     "spec":{"width":129,"height":128,
      "encoding":{"x":{"field":"x","type":"quantitative","title":null,"scale":{"domain":[0,20]},"axis":{"values":[0,5,10,15,20],"tickCount":5,"labelOverlap":false}},
        "y":{"field":"y","type":"quantitative","title":null,"scale":{"domain":[0,700]},"axis":{"values":[0,100,200,300,400,500,600,700],"tickCount":8,"labels":false}}},
      "layer":[
      {"transform":[{"filter":"datum.s=='vl'||datum.s=='wl'"}],"mark":{"type":"line","clip":true,"strokeWidth":1.3},
       "encoding":{"color":{"field":"s","type":"nominal","scale":{"domain":["wl","vl"],"range":["#111111","#aaaaaa"]},"legend":null},
        "strokeDash":{"field":"s","type":"nominal","scale":{"domain":["wl","vl"],"range":[[1,0],[4,3]]},"legend":null}}},
      {"transform":[{"filter":"datum.s=='vp'"}],"mark":{"type":"circle","size":9,"color":"#9a9a9a","opacity":1},"encoding":{}},
      {"transform":[{"filter":"datum.s=='wp'"}],"mark":{"type":"circle","size":16,"color":"#111111","opacity":1},"encoding":{}}
     ]}}
   ]}
 ]}
],
"config":{
 "font":"Liberation Sans",
 "view":{"stroke":"#9a9a9a","strokeWidth":1},
 "axis":{"grid":false,"domain":false,"tickColor":"#888888","tickSize":-3,"labelFontSize":5.5,"labelColor":"#555555","labelPadding":4,"labelFlush":false,"labelOverlap":false,"labelFont":"Liberation Sans"}
}
}
